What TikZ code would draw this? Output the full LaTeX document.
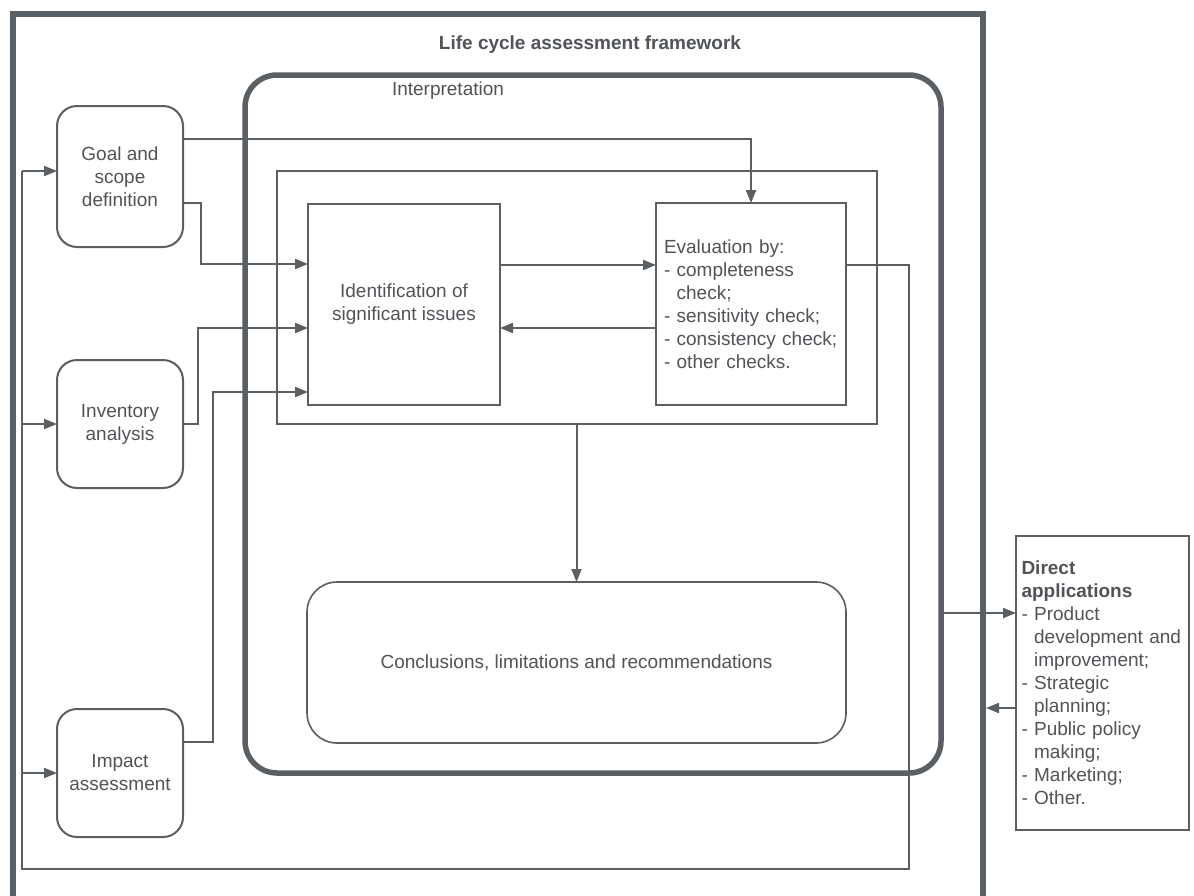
\documentclass[tikz,border=0pt]{standalone}
\usepackage{fontspec}
\setmainfont{Liberation Sans}
\usetikzlibrary{arrows.meta,calc}
\definecolor{ink}{HTML}{5A5F64}
\definecolor{txt}{HTML}{505458}
\begin{document}
\begin{tikzpicture}[x=1pt,y=-1pt,
  every node/.style={text=txt, font=\fontsize{19}{23}\selectfont},
  box/.style={draw=ink, line width=2pt, inner sep=0pt, outer sep=0pt},
  stagebox/.style={box, rounded corners=20pt, minimum width=126pt, minimum height=128pt, align=center},
  arr/.style={draw=ink, line width=2pt, -{Triangle[length=13pt,width=10pt]}},
  wire/.style={draw=ink, line width=2pt},
]
\useasboundingbox (0,0) rectangle (1194,895);
\fill[white] (0,0) rectangle (1194,895);

% outer framework border (open at the bottom of the sheet)
\draw[ink, line width=6pt, line join=miter] (13,910) -- (13,14) -- (983,14) -- (983,910);
\node[font=\bfseries\fontsize{19}{23}\selectfont] (title) at (590,45) {Life cycle assessment framework};

% interpretation phase
\node[box, line width=5.5pt, rounded corners=32pt, minimum width=696pt, minimum height=698pt] (interp) at (593,424) {};
\node (interplabel) at (448,91) {Interpretation};
\node[box, minimum width=600pt, minimum height=253pt] (group) at (577,297.5) {};
\node[box, minimum width=192pt, minimum height=201pt, align=center] (ident) at (404,304.5)
  {Identification of\\significant issues};
\node[box, minimum width=190pt, minimum height=202pt, text width=174pt, align=left] (eval) at (751,304)
  {Evaluation by:\\- completeness\\\phantom{- }check;\\- sensitivity check;\\- consistency check;\\- other checks.};
\node[box, line width=1.6pt, rounded corners=30pt, minimum width=539pt, minimum height=161pt] (concl) at (576.5,662.5)
  {Conclusions, limitations and recommendations};

% phases on the left
\node[stagebox, minimum height=141pt] (goal) at (120,176.5) {Goal and\\scope\\definition};
\node[stagebox] (inv) at (120,424) {Inventory\\analysis};
\node[stagebox] (impact) at (120,773) {Impact\\assessment};

% applications
\node[box, minimum width=173pt, minimum height=294pt, text width=162pt, align=left] (direct) at (1102.5,683)
  {\textbf{Direct}\\\textbf{applications}\\- Product\\\phantom{- }development and\\\phantom{- }improvement;\\- Strategic\\\phantom{- }planning;\\- Public policy\\\phantom{- }making;\\- Marketing;\\- Other.};

% feedback loop back to the phases
\coordinate (loopNE) at (909,265);
\coordinate (loopSE) at (909,869);
\coordinate (loopSW) at (22,869);
\coordinate (loopNW) at (22,171);
\draw[wire] (eval.east |- loopNE) -- (loopNE) -- (loopSE) -- (loopSW) -- (loopNW);
\draw[arr] (loopNW) -- (goal.west |- loopNW);
\draw[arr] (loopSW |- inv.west) -- (inv.west);
\draw[arr] (loopSW |- impact.west) -- (impact.west);

% phases into interpretation
\draw[arr] (goal.east |- 0,139) -| (eval.north);
\draw[arr] (goal.east |- 0,203) -| (201,264) -- (ident.west |- 0,264);
\draw[arr] (inv.east) -| (198,328) -- (ident.west |- 0,328);
\draw[arr] (impact.east |- 0,742) -| (213,392) -- (ident.west |- 0,392);

% within interpretation
\draw[arr] (ident.east |- 0,265) -- (eval.west |- 0,265);
\draw[arr] (eval.west |- 0,328) -- (ident.east |- 0,328);
\draw[arr] (group.south -| concl.north) -- (concl.north);

% to and from the applications
\coordinate (frameR) at (986,708);
\draw[arr] (interp.east |- 0,613) -- (direct.west |- 0,613);
\draw[arr] (direct.west |- frameR) -- (frameR);
\end{tikzpicture}
\end{document}
